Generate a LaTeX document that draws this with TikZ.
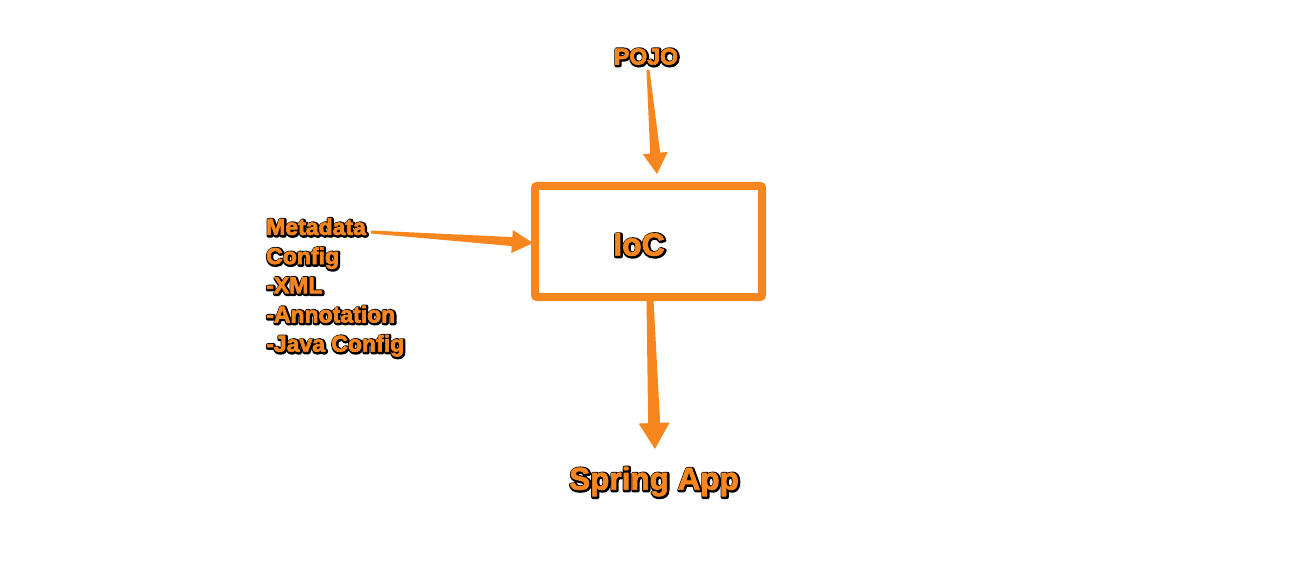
\documentclass[tikz,border=0pt]{standalone}
\usepackage{fontspec}
\setmainfont{Liberation Sans}
\usetikzlibrary{calc}
\definecolor{springorange}{RGB}{248,134,30}
% orange text with a black outline and a slight shadow
\newcommand{\otext}[1]{\leavevmode\rlap{\raisebox{-0.8pt}{\kern0.8pt\special{pdf:literal direct q 0 0 0 rg 0 0 0 RG 2 Tr 4 w 1 j}#1\special{pdf:literal direct Q}}}{\special{pdf:literal direct q 0.973 0.525 0.118 RG 2 Tr 0.7 w 1 j}#1\special{pdf:literal direct Q}}}
\tikzset{
  olabel/.style={text=springorange, font=\bfseries, inner sep=0pt},
  iocbox/.style={draw=springorange, line width=8pt, rounded corners=2pt, minimum width=227pt, minimum height=111pt, inner sep=0pt},
}
% tapered arrow: #1 start, #2 tip, #3 start width, #4 shaft width, #5 head width, #6 head length
\newcommand{\taper}[6]{%
  \coordinate (hb) at ($(#2)!#6!(#1)$);
  \fill[springorange] ($(#1)!#3/2!90:(#2)$) -- ($(hb)!#4/2!-90:(#1)$) -- ($(hb)!#5/2!-90:(#1)$) -- (#2)
     -- ($(hb)!#5/2!90:(#1)$) -- ($(hb)!#4/2!90:(#1)$) -- ($(#1)!#3/2!-90:(#2)$) -- cycle;
}
\begin{document}
\begin{tikzpicture}[x=1pt,y=-1pt]
\useasboundingbox (0,0) rectangle (1308,561);
\node[iocbox] (ioc) at (648.5,241.5) {};
\node[olabel, font=\bfseries\fontsize{32}{36}\selectfont] (ioclabel) at (639,245) {\otext{IoC}};
\node[olabel, font=\bfseries\fontsize{23}{26}\selectfont] (pojo) at (646,57) {\otext{POJO}};
\node[olabel, font=\bfseries\fontsize{31.5}{36}\selectfont] (app) at (654,482) {\otext{Spring App}};
\node[olabel, anchor=north west, align=left, font=\bfseries\fontsize{23}{29.2}\selectfont] (meta) at (266,218)
  {\otext{Metadata}\\\otext{Config}\\\otext{-XML}\\\otext{-Annotation}\\\otext{-Java Config}};
% connector end points
\coordinate (pojoS) at (648,70);
\coordinate (pojoT) at (657,174);
\coordinate (metaS) at (371,232);
\coordinate (metaT) at (533,243);
\coordinate (appS) at (650,300);
\coordinate (appT) at (655,449);
\taper{pojoS}{pojoT}{3pt}{10pt}{25pt}{21pt}
\taper{metaS}{metaT}{3pt}{9pt}{23pt}{21pt}
\taper{appS}{appT}{7pt}{12pt}{31pt}{26pt}
\end{tikzpicture}
\end{document}
